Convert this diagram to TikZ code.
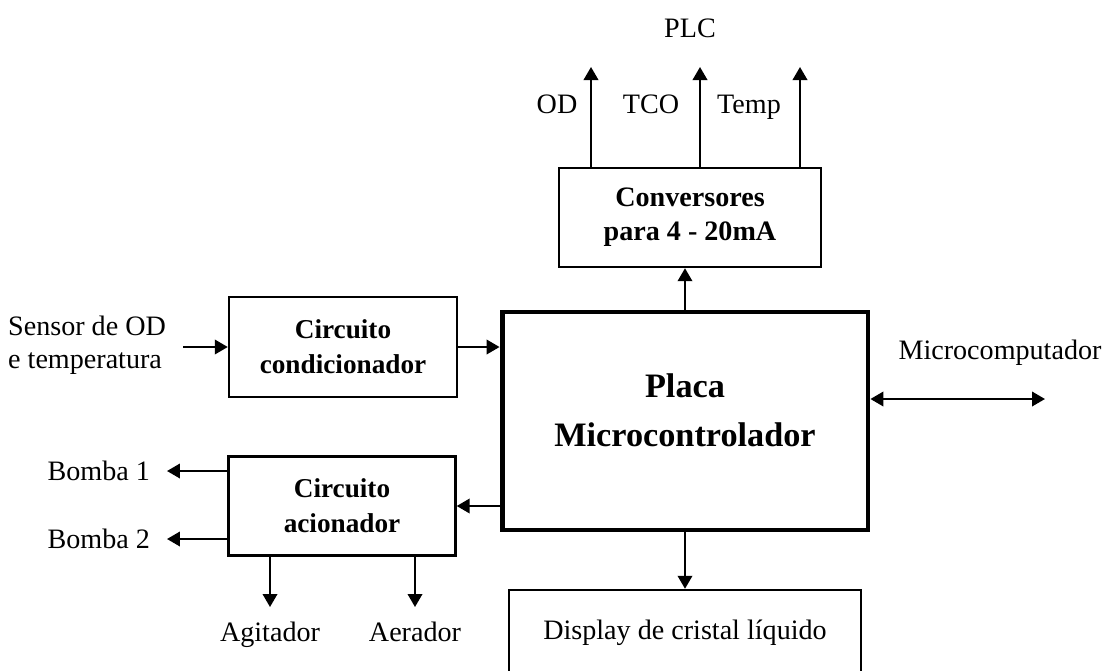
\documentclass[tikz,border=0pt]{standalone}
\usepackage{fontspec}
\setmainfont{Liberation Serif}
\usetikzlibrary{positioning,arrows.meta,calc}
\tikzset{
  blk/.style={draw, line width=1.4pt, align=center, inner sep=0pt,
              font=\fontsize{15.5}{20}\selectfont\bfseries},
  mainblk/.style={draw, line width=2.8pt, inner sep=0pt},
  maintxt/.style={align=center, font=\fontsize{19.5}{28}\selectfont\bfseries},
  txt/.style={font=\fontsize{16}{19}\selectfont, align=left, inner sep=1pt},
  sig/.style={-{Triangle[length=2.6mm,width=2.9mm]}, line width=1.2pt},
  bisig/.style={{Triangle[length=2.6mm,width=2.9mm]}-{Triangle[length=2.6mm,width=2.9mm]}, line width=1.2pt}
}

\begin{document}
\begin{tikzpicture}[x=0.02cm, y=-0.02cm, node distance=2mm]
        \clip (0,0) rectangle (1109,670);
        % blocos
        \node[mainblk, minimum width=7.32cm, minimum height=4.36cm] (placa) at (685,421) {};
        \node[maintxt] (placatxt) at ([yshift=0.22cm]placa.center) {Placa\\Microcontrolador};
        \node[blk, font=\fontsize{16}{19.5}\selectfont\bfseries, minimum width=5.24cm, minimum height=1.98cm]
             (conv) at (690,217.5) {Conversores\\para 4 - 20mA};
        \node[blk, minimum width=4.56cm, minimum height=2cm] (cond) at (343,347)
             {Circuito\\condicionador};
        \node[blk, minimum width=4.54cm, minimum height=1.98cm] (acion) at (342,506)
             {Circuito\\acionador};
        \node[blk, font=\fontsize{16}{19}\selectfont, minimum width=7.04cm, minimum height=1.72cm]
             (disp) at (685,633) {Display de cristal líquido};
        % saidas para o PLC
        \coordinate (od) at (591,67);
        \coordinate (tco) at (700,67);
        \coordinate (tmp) at (800,67);
        \node[txt] (plc) at (690,28) {PLC};
        \node[txt, anchor=base] (odl) at (557,113) {OD};
        \node[txt, anchor=base] (tcol) at (651,113) {TCO};
        \node[txt, anchor=base] (tmpl) at (749,113) {Temp};
        \draw[sig] (conv.north -| od) -- (od);
        \draw[sig] (conv.north -| tco) -- (tco);
        \draw[sig] (conv.north -| tmp) -- (tmp);
        \draw[sig] (placa.north) -- (placa.north |- conv.south);
        % entrada do sensor
        \node[txt, anchor=east] (sensor) at (168,345) {Sensor de OD\\e temperatura};
        \coordinate (sin) at (183,347);
        \draw[sig] (sin) -- (cond.west);
        \draw[sig] (cond.east) -- (cond.east -| placa.west);
        \draw[sig] (placa.west |- acion.east) -- (acion.east);
        % atuadores
        \coordinate (b1) at (167,471);
        \coordinate (b2) at (167,539);
        \node[txt, left=3mm of b1] (bomba1) {Bomba 1};
        \node[txt, left=3mm of b2] (bomba2) {Bomba 2};
        \draw[sig] (acion.west |- b1) -- (b1);
        \draw[sig] (acion.west |- b2) -- (b2);
        \coordinate (ag) at (270,607);
        \coordinate (ae) at (415,607);
        \node[txt, below=2.5mm of ag] (agit) {Agitador};
        \node[txt, below=2.5mm of ae] (aer) {Aerador};
        \draw[sig] (acion.south -| ag) -- (ag);
        \draw[sig] (acion.south -| ae) -- (ae);
        % display e micro
        \draw[sig] (placa.south) -- (placa.south |- disp.north);
        \coordinate (mc) at (1045,399);
        \node[txt] (micro) at (1000,353) {Microcomputador};
        \draw[bisig] (placa.east |- mc) -- (mc);
\end{tikzpicture}
\end{document}
